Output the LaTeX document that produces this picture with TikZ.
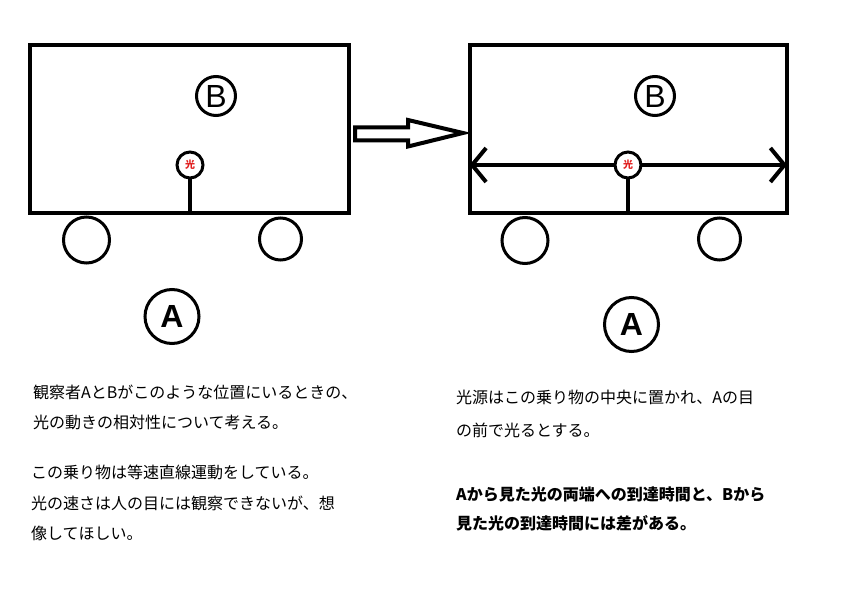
\documentclass[tikz,border=0pt]{standalone}
\usepackage{fontspec}
\setmainfont{Noto Sans CJK JP}
\newfontfamily\lat{Liberation Sans}
\usetikzlibrary{arrows.meta}
\definecolor{lightred}{RGB}{225,30,30}
\tikzset{
  car/.style={draw, line width=4pt, inner sep=0pt, outer sep=0pt},
  ring/.style={draw, circle, line width=3pt, inner sep=0pt, outer sep=0pt, fill=white},
  lamp/.style={draw, circle, line width=3pt, minimum size=26pt, inner sep=0pt, outer sep=0pt, fill=white,
    font=\fontsize{10}{10}\selectfont\bfseries, text=lightred},
  bigletter/.style={ring, minimum size=#1, font=\lat\fontsize{32}{32}\selectfont},
  stem/.style={line width=3.5pt},
  txt/.style={anchor=west, inner sep=0pt, font=\fontsize{16}{18}\selectfont},
  btxt/.style={txt, font=\fontsize{16}{18}\selectfont\bfseries},
  beam/.style={line width=4pt, {Straight Barb[length=14pt,width=34pt]}-},
}
\begin{document}
\begin{tikzpicture}[x=1pt,y=-1pt]
\useasboundingbox (0,0) rectangle (847,593);
% left car
\node[car, minimum width=319pt, minimum height=168pt] (boxL) at (189.5,129) {};
\node[bigletter=39pt] (BL) at (216,96) {B};
\node[lamp] (lampL) at (190,165) {光};
\draw[stem] (lampL.south) -- (lampL.south |- boxL.south);
\node[ring, minimum size=46pt] (wL1) at (86.5,240) {};
\node[ring, minimum size=42pt] (wL2) at (280.5,239) {};
\node[bigletter=54pt, font=\lat\fontsize{32}{32}\selectfont\bfseries] (AL) at (172,316.5) {A};
% block arrow
\draw[line width=4pt, line join=miter]
  (355,127.5) -- (408,127.5) -- (408,120) -- (463,133) -- (408,146.5) -- (408,140.5) -- (355,140.5) -- cycle;
% right car
\node[car, minimum width=317.5pt, minimum height=168pt] (boxR) at (628.25,129) {};
\node[bigletter=39pt] (BR) at (655,96) {B};
\node[lamp] (lampR) at (628,165) {光};
\coordinate (endL) at (boxR.west |- lampR.west);
\coordinate (endR) at (boxR.east |- lampR.east);
\draw[beam] (endL) -- (lampR.west);
\draw[beam] (endR) -- (lampR.east);
\draw[stem] (lampR.south) -- (lampR.south |- boxR.south);
\node[ring, minimum size=46pt] (wR1) at (525,240.5) {};
\node[ring, minimum size=42pt] (wR2) at (719.5,239) {};
\node[bigletter=54pt, font=\lat\fontsize{32}{32}\selectfont\bfseries] (AR) at (631.5,324.5) {A};
% texts
\node[txt] (t1) at (33,392) {観察者AとBがこのような位置にいるときの、};
\node[txt] (t2) at (33,422) {光の動きの相対性について考える。};
\node[txt] (t3) at (31,472) {この乗り物は等速直線運動をしている。};
\node[txt] (t4) at (31,503) {光の速さは人の目には観察できないが、想};
\node[txt] (t5) at (31,533) {像してほしい。};
\node[txt] (t6) at (456,397) {光源はこの乗り物の中央に置かれ、Aの目};
\node[txt] (t7) at (456,430) {の前で光るとする。};
\node[btxt] (t8) at (456,494) {Aから見た光の両端への到達時間と、Bから};
\node[btxt] (t9) at (456,523) {見た光の到達時間には差がある。};
\end{tikzpicture}
\end{document}
